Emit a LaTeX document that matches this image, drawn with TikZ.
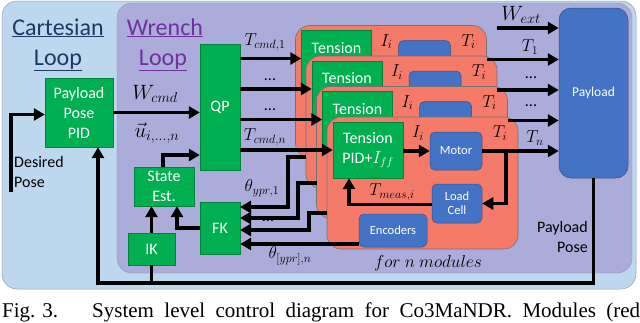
\documentclass[tikz,border=0pt]{standalone}
\usepackage{fontspec}
\setmainfont{Carlito}
\newfontfamily\capfont{Liberation Serif}
\usetikzlibrary{arrows.meta}
\definecolor{cblue}{RGB}{189,215,238}
\definecolor{cpurple}{RGB}{172,172,218}
\definecolor{bgreen}{RGB}{0,176,80}
\definecolor{salmon}{RGB}{246,122,106}
\definecolor{bblue}{RGB}{68,114,196}
\definecolor{tdark}{RGB}{32,56,100}
\definecolor{tpurple}{RGB}{112,48,160}
\begin{document}
\begin{tikzpicture}[x=1pt,y=-1pt,
  gbox/.style={fill=bgreen, draw=bgreen!75!black, line width=0.4pt, text=white, align=center, inner sep=0pt, font=\fontsize{16}{20}\selectfont},
  bbox/.style={fill=bblue, draw=bblue!70!black, line width=0.5pt, rounded corners=5pt, text=white, align=center, inner sep=0pt, font=\fontsize{12.5}{14}\selectfont},
  flow/.style={line width=3.5pt, -{Triangle[length=11pt,width=12pt]}},
  wire/.style={line width=3.5pt},
  lab/.style={font=\fontsize{18}{20}\selectfont, inner sep=0pt},
  dots/.style={font=\fontsize{16}{18}\selectfont, inner sep=0pt},
  plain/.style={font=\fontsize{16}{20}\selectfont, inner sep=0pt, align=left},
  modbox/.style={fill=salmon, draw=black!55, line width=0.6pt, rounded corners=14pt},
  captext/.style={anchor=base west, font=\capfont\fontsize{21}{23}\selectfont, inner sep=0pt},
]
\useasboundingbox (0,0) rectangle (640,322);
% backgrounds
\path[fill=cblue, draw=cblue!75!black, line width=0.5pt, rounded corners=15pt] (2,1) rectangle (636,289);
\path[fill=cpurple, draw=cpurple!85!black, line width=0.4pt, rounded corners=15pt] (117,3) rectangle (632,273);
% titles
\node[anchor=base, font=\fontsize{24}{26}\selectfont, text=tdark, inner sep=0pt] (cart1) at (58,35) {\underline{Cartesian}};
\node[anchor=base, font=\fontsize{24}{26}\selectfont, text=tdark, inner sep=0pt] (cart2) at (58,65) {\underline{Loop}};
\node[anchor=base, font=\fontsize{24}{26}\selectfont, text=tpurple, inner sep=0pt] (wr1) at (165,35) {\underline{Wrench}};
\node[anchor=base, font=\fontsize{24}{26}\selectfont, text=tpurple, inner sep=0pt] (wr2) at (163,65) {\underline{Loop}};
% left blocks
\node[gbox, minimum width=68pt, minimum height=69pt] (pid) at (79,112.5) {Payload\\Pose\\PID};
\node[gbox, minimum width=40pt, minimum height=126pt] (qp) at (220,107) {QP};
\node[gbox, minimum width=60pt, minimum height=39pt] (st) at (164,186.5) {State\\Est.};
\node[gbox, minimum width=47pt, minimum height=32pt] (ik) at (151.5,249) {IK};
\node[gbox, minimum width=40pt, minimum height=52pt] (fk) at (220,228) {FK};
\node[bbox, rounded corners=12pt, minimum width=69pt, minimum height=170pt, font=\fontsize{13.5}{15}\selectfont] (pay) at (593.5,93) {Payload};
% modules (three stacked behind, the front one in full)
\foreach \k in {0,1,2,3}{
 \begin{scope}[shift={(295.5+10.5*\k,25.5+30.5*\k)}]
  \path[modbox] (0,0) rectangle (191,132);
  \coordinate (R\k) at (191,34);
  \node[lab] (Ii\k) at (91,16) {$I_i$};
  \node[lab] (Ti\k) at (173,16) {$T_i$};
  \ifnum\k<3
    \node[gbox, minimum width=70pt, minimum height=56pt] (T\k) at (41,33) {};
    \node[gbox, fill=none, draw=none] (Tt\k) at (41,22.5) {Tension};
    \node[bbox, minimum width=52pt, minimum height=38pt] (M\k) at (129,34) {};
    \draw[wire] (M\k.east) -- (R\k);
  \else
    \node[gbox, minimum width=70pt, minimum height=56pt] (T\k) at (41,33) {Tension\\PID+$I_{ff}$};
    \node[bbox, minimum width=52pt, minimum height=38pt] (M\k) at (129,34) {Motor};
    \node[bbox, minimum width=50pt, minimum height=39pt] (L\k) at (130,86.5) {Load\\Cell};
    \node[bbox, minimum width=68pt, minimum height=33pt] (E\k) at (66,113.5) {Encoders};
    \coordinate (B\k) at (179,34);
    \coordinate (Q\k) at (22,87.5);
    \coordinate (Z\k) at (32,127);
    \draw[flow] (T\k.east |- M\k.west) -- (M\k.west);
    \draw[flow] (B\k) -- (B\k |- L\k.east) -- (L\k.east);
    \draw[flow] (L\k.west |- Q\k) -- (Q\k) -- (Q\k |- T\k.south);
    \node[lab] (Tm\k) at (65,75) {$T_{meas,i}$};
  \fi
 \end{scope}
}
% commands to modules
\foreach \k in {0,1,2,3}{
  \draw[flow] (qp.east |- T\k.west) -- (T\k.west);
}
% module outputs to payload
\foreach \k in {0,1,2}{
  \draw[flow] (R\k) -- (R\k -| pay.west);
}
\draw[flow] (M3.east) -- (M3.east -| pay.west);
\coordinate (wx) at (497,28);
\draw[flow] (wx) -- (wx -| pay.west);
% encoder feedback to FK
\coordinate (a0) at (306,157);
\coordinate (a1) at (316.5,183);
\coordinate (a2) at (327,213);
\coordinate (f0) at (240,207);
\coordinate (f1) at (240,218);
\coordinate (f2) at (240,230);
\draw[flow] (a0) -- ++(-18,0) |- (f0);
\draw[flow] (a1) -- ++(-18.5,0) |- (f1);
\draw[flow] (a2) -- ++(-18,0) |- (f2);
\draw[flow] (Z3) -- (Z3 -| fk.east);
% left side connectors
\draw[flow] (ik.north) -- (ik.north |- st.south);
\draw[flow] (fk.west) -| ([xshift=13pt]st.south);
\coordinate (uy) at (163,155);
\draw[flow] (st.north -| uy) -- (uy) -- (uy -| qp.west);
\draw[flow] (pid.east) -- (pid.east -| qp.west);
\coordinate (des) at (11,192);
\draw[flow] (des) |- ([yshift=-2pt]pid.west);
\coordinate (fb) at (98,283);
\draw[flow] (pay.south) |- (fb) -- (fb |- pid.south);
\draw[wire] (ik.south) -- (ik.south |- fb);
% labels
\node[lab, font=\fontsize{20}{22}\selectfont] (lwc) at (155,94) {$W_{cmd}$};
\node[lab, font=\fontsize{20}{22}\selectfont] (lu) at (157,133) {$\vec{u}_{i,\dots,n}$};
\node[lab] (lt1) at (265,42) {$T_{cmd,1}$};
\node[dots] (ld1) at (270,80) {...};
\node[dots] (ld2) at (270,110) {...};
\node[lab] (ltn) at (265,137) {$T_{cmd,n}$};
\node[lab] (lth1) at (262,188) {$\theta_{ypr,1}$};
\node[dots] (ld3) at (268,221) {...};
\node[lab] (lthn) at (290,256) {$\theta_{[ypr],n}$};
\node[lab, font=\fontsize{19}{20}\selectfont] (lmod) at (428,263) {$for\ n\ modules$};
\node[lab, font=\fontsize{20}{22}\selectfont] (lwe) at (521,15) {$W_{ext}$};
\node[lab] (lT1) at (530,47) {$T_1$};
\node[dots] (ld4) at (531,78) {...};
\node[dots] (ld5) at (531,106) {...};
\node[lab] (lTn) at (535,138) {$T_n$};
\node[plain, anchor=east, align=right] (lpp) at (588,237) {Payload\\Pose};
\node[plain, anchor=west] (ldp) at (14,172) {Desired\\Pose};
% caption
\node[captext] (fig) at (2,317) {\makebox[56pt][s]{Fig. 3.}};
\node[captext] (cap) at (92,317) {\makebox[548pt][s]{System level control diagram for Co3MaNDR. Modules (red}};
\end{tikzpicture}
\end{document}
